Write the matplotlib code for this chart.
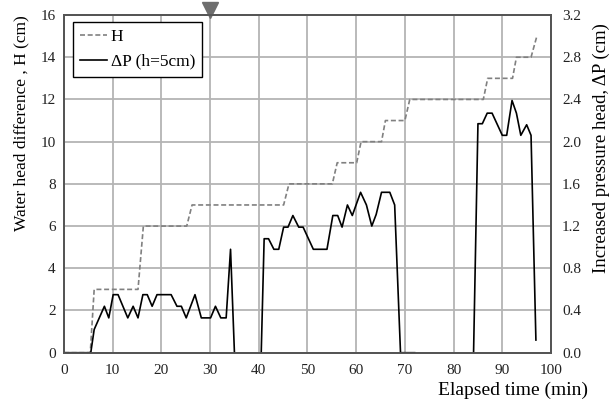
import numpy as np
import matplotlib
matplotlib.use('Agg')
import matplotlib.pyplot as plt
from matplotlib.transforms import blended_transform_factory

plt.rcParams['font.family'] = ['Liberation Serif', 'DejaVu Serif']
plt.rcParams['mathtext.fontset'] = 'stix'

# water head difference H (cm), stepped
t_h = [0, 5.4, 6.2, 15.2, 16.3, 25.2, 26.3, 45.1, 46.2, 55.1, 56.1, 60.1, 61.0,
       65.2, 66.0, 70.0, 71.0, 86.1, 87.0, 92.1, 92.9, 95.9, 97.1]
h_val = [0, 0, 3, 3, 6, 6, 7, 7, 8, 8, 9, 9, 10,
         10, 11, 11, 12, 12, 13, 13, 14, 14, 15]

# increased pressure head dP (cm), nan = no reading
t_dp = [0, 5.5, 6.2, 8.3, 9.2, 10.1, 11.1, 13.1, 14.2, 15.2, 16.2, 17.1, 18.1,
        19.1, 22.0, 23.2, 24.1, 25.1, 26.9, 28.2, 30.1, 31.1, 32.2, 33.3, 34.2,
        35.0, 37.0,
        40.5, 41.1, 42.0, 43.1, 44.1, 45.1, 46.0, 47.0, 48.2, 49.1, 51.2, 54.0,
        55.2, 56.2, 57.1, 58.2, 59.2, 60.9, 62.1, 63.2, 64.1, 65.2, 66.9, 67.9,
        69.1, 72.0, 78.0,
        84.1, 85.0, 85.9, 86.9, 87.9, 90.0, 90.9, 92.0, 92.9, 93.8, 95.0, 95.9,
        96.9]
dp_val = [0, 0, 0.22, 0.44, 0.33, 0.55, 0.55, 0.33, 0.44, 0.33, 0.55, 0.55, 0.44,
          0.55, 0.55, 0.44, 0.44, 0.33, 0.55, 0.33, 0.33, 0.44, 0.33, 0.33, 0.98,
          0, np.nan,
          0, 1.08, 1.08, 0.98, 0.98, 1.19, 1.19, 1.30, 1.19, 1.19, 0.98, 0.98,
          1.30, 1.30, 1.19, 1.40, 1.30, 1.52, 1.40, 1.20, 1.31, 1.52, 1.52, 1.40,
          0, 0, np.nan,
          0, 2.17, 2.17, 2.27, 2.27, 2.06, 2.06, 2.39, 2.27, 2.06, 2.16, 2.06,
          0.12]

x_ticks = np.arange(0, 101, 10)
h_ticks = np.arange(0, 17, 2)
dp_ticks = np.arange(0, 3.3, 0.4)
mark_t = 30

fig = plt.figure(figsize=(6.14, 4.07), dpi=100)
ax = fig.add_axes([0.1042, 0.1334, 0.7932, 0.8297])
ax2 = ax.twinx()

ax.plot(t_h, h_val, color='#808080', lw=1.2, ls=(0, (3, 1.6)), label='H')
ax2.plot(t_dp, dp_val, color='black', lw=1.2)
# proxy so both entries sit in one legend
ax.plot([], [], color='black', lw=1.2, label='ΔP (h=5cm)')

ax.set_xlim(0, 100)
ax.set_ylim(0, 16)
ax2.set_ylim(0, 3.2)
ax.set_xticks(x_ticks)
ax.set_yticks(h_ticks)
ax2.set_yticks(dp_ticks)
ax2.set_yticklabels(['%.1f' % v for v in dp_ticks])

ax.grid(True, color='#b4b4b4', lw=1.3)
ax.set_axisbelow(True)
for a in (ax, ax2):
    a.tick_params(length=0, labelsize=11, colors='#222222')
    for s in a.spines.values():
        s.set_linewidth(1.3)
        s.set_color('#555555')
ax.tick_params(axis='x', pad=8)
ax.tick_params(axis='y', pad=6)
ax2.tick_params(axis='y', pad=8)

ax.set_ylabel('Water head difference , H (cm)', fontsize=12.5, loc='top', labelpad=8)
ax2.set_ylabel('Increased pressure head, ΔP (cm)', fontsize=13.5, loc='top')
ax2.yaxis.set_label_coords(1.086, 0.975)
ax.set_xlabel('Elapsed time (min)', fontsize=14, loc='right')
ax.xaxis.set_label_coords(1.076, -0.085)

# marker above the plot at 30 min
tr = blended_transform_factory(ax.transData, ax.transAxes)
ax.plot([mark_t], [1.016], marker='v', ms=12, color='#6e6e6e', transform=tr,
        clip_on=False, zorder=5)

leg = ax.legend(loc='upper left', bbox_to_anchor=(0.018, 0.98), fontsize=12.5,
                frameon=True, fancybox=False, edgecolor='black', framealpha=1,
                handlelength=1.6, handletextpad=0.2, borderpad=0.4,
                labelspacing=0.5, borderaxespad=0)
leg.get_frame().set_linewidth(1.0)

fig.savefig('out.png', dpi=100)
